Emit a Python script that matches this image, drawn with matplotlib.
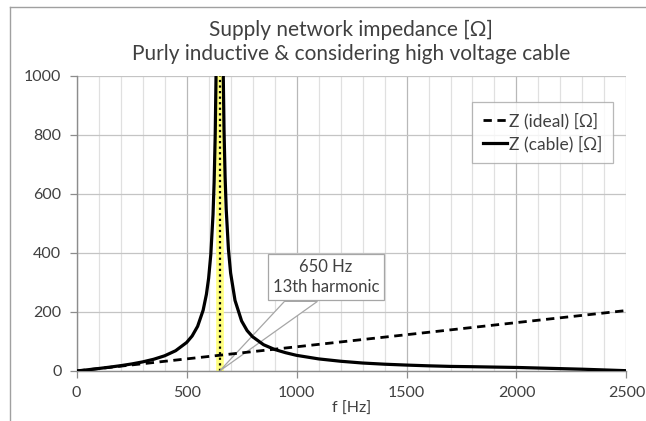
import matplotlib
matplotlib.use('Agg')
import matplotlib.pyplot as plt
from matplotlib.lines import Line2D
from matplotlib.patches import Polygon
from matplotlib.ticker import MultipleLocator

plt.rcParams['font.family'] = ['Lato', 'DejaVu Sans']

# ideal (purely inductive) impedance, straight line
f_ideal = [0, 2500]
z_ideal = [0, 205]

# impedance with high voltage cable (parallel resonance at 650 Hz)
f_cable = [0, 50, 100, 150, 200, 250, 300, 350, 400, 450, 500, 525, 550, 575,
           590, 600, 610, 620, 625, 630, 635, 640, 645, 655, 660, 665, 670,
           675, 680, 690, 700, 720, 750, 775, 800, 850, 900, 950, 1000, 1100,
           1200, 1300, 1400, 1500, 1600, 1700, 1800, 1900, 2000, 2100, 2200,
           2300, 2400, 2500]
z_cable = [0, 4.1, 8.4, 13.0, 18.0, 23.8, 30.8, 39.7, 51.5, 68.7, 96.6, 118.6,
           151.4, 205.8, 260.0, 314.2, 395.3, 530.4, 638.5, 800.6, 1070, 1613,
           3229, 3249, 1628, 1088, 818.5, 656.5, 548.4, 413.4, 332.2, 239.4,
           169.5, 137, 116, 89, 73, 62, 53, 41, 33, 27, 23, 20, 17.5, 15.5,
           14.5, 13.2, 12, 10, 8, 6, 3.5, 1]

f_res = 650
title = 'Supply network impedance [\u03a9]\nPurly inductive & considering high voltage cable'

fig = plt.figure(figsize=(6.46, 4.21), dpi=100)
ax = fig.add_axes([0.1187, 0.1188, 0.851, 0.7007])

txt_col = '#404040'

ax.set_xlim(0, 2500)
ax.set_ylim(0, 1000)
ax.xaxis.set_major_locator(MultipleLocator(500))
ax.xaxis.set_minor_locator(MultipleLocator(100))
ax.yaxis.set_major_locator(MultipleLocator(200))

ax.grid(which='minor', axis='x', color='#e0e0e0', lw=0.9)
ax.grid(which='major', axis='x', color='#b8b8b8', lw=0.9)
ax.grid(which='major', axis='y', color='#c4c4c4', lw=0.9)
ax.set_axisbelow(True)

for s in ['top', 'right']:
    ax.spines[s].set_visible(False)
for s in ['left', 'bottom']:
    ax.spines[s].set_color('#8c8c8c')
    ax.spines[s].set_linewidth(1.0)

ax.tick_params(which='major', length=5, width=0.9, color='#8c8c8c',
               labelsize=11.5, labelcolor=txt_col, pad=6)
ax.tick_params(which='minor', length=0)

# 650 Hz marker: yellow band with dotted line
ax.axvline(f_res, color='#ffff80', lw=5.5, zorder=1.5)
ax.axvline(f_res, color='black', lw=1.6, ls=(0, (1, 1.5)), zorder=1.6)

ax.plot(f_ideal, z_ideal, color='black', lw=2.0, ls=(0, (3, 2)),
        label='Z (ideal) [\u03a9]', zorder=3)
ax.plot(f_cable, z_cable, color='black', lw=2.3,
        label='Z (cable) [\u03a9]', zorder=3)

# callout box with wedge pointing at the resonance
wedge = Polygon([(f_res, 0), (945, 236), (1095, 236)], closed=True,
                facecolor='white', edgecolor='#a6a6a6', lw=0.9, zorder=2.5)
ax.add_patch(wedge)
ax.text(1133, 318, '650 Hz\n13th harmonic', ha='center', va='center',
        fontsize=12, color=txt_col, linespacing=1.3, zorder=4,
        bbox=dict(boxstyle='square,pad=0.3', fc='white', ec='#a6a6a6', lw=0.9))

leg = ax.legend(loc='upper right', bbox_to_anchor=(0.976, 0.912),
                fontsize=12.5, frameon=True, fancybox=False, handlelength=1.4,
                handletextpad=0.15, borderpad=0.6, labelspacing=0.4,
                borderaxespad=0)
leg.get_frame().set_edgecolor('#a6a6a6')
leg.get_frame().set_linewidth(0.9)
for t in leg.get_texts():
    t.set_color(txt_col)

ax.set_xlabel('f [Hz]', fontsize=11.5, color=txt_col, labelpad=1)
fig.text(0.544, 0.9, title, ha='center', va='center', fontsize=15,
         color=txt_col, linespacing=1.25)

# chart area border (left and top edges visible)
fig.add_artist(Line2D([9.5 / 646, 9.5 / 646], [0, 1 - 7 / 421],
                      transform=fig.transFigure, color='#a0a0a0', lw=1))
fig.add_artist(Line2D([9.5 / 646, 1], [1 - 7 / 421, 1 - 7 / 421],
                      transform=fig.transFigure, color='#a0a0a0', lw=1))

fig.savefig('out.png', dpi=100)
